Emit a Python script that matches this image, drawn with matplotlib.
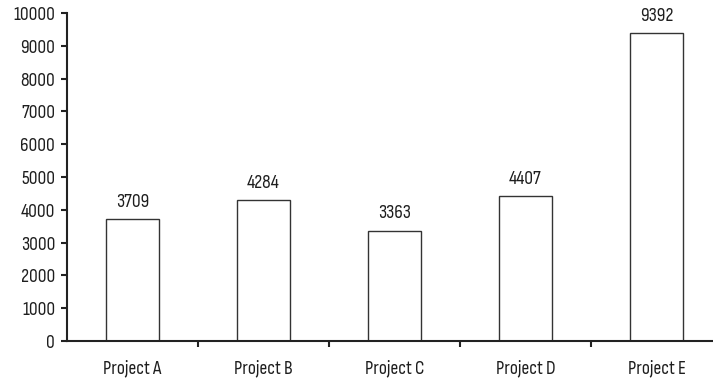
import matplotlib
matplotlib.use("Agg")
import matplotlib.pyplot as plt

# Data
categories = ["Project A", "Project B", "Project C", "Project D", "Project E"]
values = [3709, 4284, 3363, 4407, 9392]
y_ticks = [0, 1000, 2000, 3000, 4000, 5000, 6000, 7000, 8000, 9000, 10000]

plt.rcParams["font.family"] = ["Sofia Sans Condensed", "DejaVu Sans"]
plt.rcParams["font.weight"] = "light"
TEXT = "#1e1e1e"

W, H = 713, 379
fig = plt.figure(figsize=(W / 100, H / 100), dpi=100)
ax = fig.add_axes([67 / W, (H - 341) / H, (W - 67) / W, 328 / H])

x = list(range(len(categories)))
ax.bar(x, values, width=0.4, facecolor="white", edgecolor="#333333", linewidth=1.0)

for xi, v in zip(x, values):
    ax.annotate(str(v), (xi, v), xytext=(0, 6), textcoords="offset points",
                ha="center", va="bottom", fontsize=14, color=TEXT)

ax.set_xlim(-0.5, -0.5 + (W - 67) / 131)
ax.set_ylim(0, 10000)
ax.set_yticks(y_ticks)
ax.set_yticklabels([str(t) for t in y_ticks])

# category labels centred, ticks at the category boundaries
ax.set_xticks(x)
ax.set_xticklabels(categories)
ax.tick_params(axis="x", which="major", length=0, pad=13, labelsize=14, labelcolor=TEXT)
ax.set_xticks([0.5, 1.5, 2.5, 3.5], minor=True)
ax.tick_params(axis="x", which="minor", length=4.5, width=1.5, color="#222222")
ax.tick_params(axis="y", length=4.5, width=1.5, pad=4, labelsize=14, labelcolor=TEXT, color="#222222")

for s in ["top", "right"]:
    ax.spines[s].set_visible(False)
for s in ["left", "bottom"]:
    ax.spines[s].set_linewidth(1.5)
    ax.spines[s].set_color("#222222")

fig.savefig("out.png", dpi=100)
